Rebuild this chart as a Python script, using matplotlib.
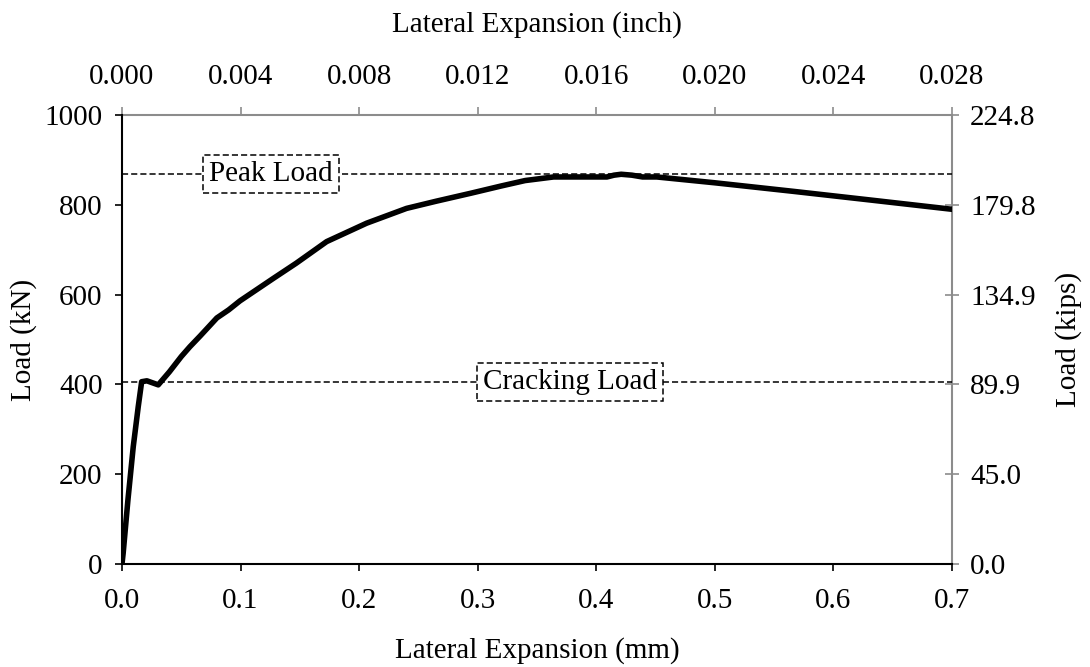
import matplotlib
matplotlib.use("Agg")
import matplotlib.pyplot as plt

plt.rcParams['font.family'] = ['Liberation Serif', 'DejaVu Serif']
plt.rcParams['font.size'] = 21

# load vs lateral expansion
expansion_mm = [0.000, 0.001, 0.005, 0.0095, 0.0137, 0.0166, 0.021, 0.0306, 0.040,
                0.050, 0.0573, 0.066, 0.080, 0.090, 0.0995, 0.1276, 0.147, 0.1726,
                0.2063, 0.240, 0.265, 0.2946, 0.320, 0.340, 0.364, 0.409, 0.415,
                0.421, 0.430, 0.439, 0.451, 0.500, 0.566, 0.630, 0.700]
load_kn = [0, 24, 142, 261, 350, 406, 408, 399, 428,
           462, 484, 508, 548, 566, 586, 636, 670, 718,
           759, 792, 808, 826, 842, 854, 862, 862, 866,
           868, 866, 862, 862, 849, 830, 811, 790]

peak_load = 868
cracking_load = 406

kn_ticks = [0, 200, 400, 600, 800, 1000]
mm_ticks = [0.0, 0.1, 0.2, 0.3, 0.4, 0.5, 0.6, 0.7]
inch_ticks = [0.000, 0.004, 0.008, 0.012, 0.016, 0.020, 0.024, 0.028]

KN_TO_KIPS = 0.22481
MM_TO_INCH = 0.028 / 0.7
GRAY = '#8c8c8c'

fig = plt.figure(figsize=(10.9, 6.67), dpi=100)
ax = fig.add_axes([0.1119, 0.1544, 0.7615, 0.6732])

ax.plot(expansion_mm, load_kn, color='black', lw=4, solid_joinstyle='round', zorder=3)
ax.axhline(peak_load, color='black', lw=1.1, ls=(0, (4, 2)), zorder=2)
ax.axhline(cracking_load, color='black', lw=1.1, ls=(0, (4, 2)), zorder=2)

box = dict(boxstyle='square,pad=0.2', fc='white', ec='black', lw=1.1, ls=(0, (4, 2)))
ax.text(0.1257, peak_load, 'Peak Load', ha='center', va='center', bbox=box, zorder=4)
ax.text(0.378, cracking_load, 'Cracking Load', ha='center', va='center', bbox=box, zorder=4)

ax.set_xlim(0, 0.7)
ax.set_ylim(0, 1000)
ax.set_xticks(mm_ticks)
ax.set_xticklabels(['%.1f' % t for t in mm_ticks])
ax.set_yticks(kn_ticks)
ax.tick_params(direction='out', length=5, width=1.2)
ax.tick_params(axis='x', pad=12)
ax.tick_params(axis='y', pad=9)
ax.spines['left'].set_linewidth(1.5)
ax.spines['bottom'].set_linewidth(1.5)
ax.spines['top'].set_visible(False)
ax.spines['right'].set_visible(False)
ax.set_xlabel('Lateral Expansion (mm)', labelpad=17)
ax.set_ylabel('Load (kN)', labelpad=5)

# imperial units on the secondary axes
top = ax.secondary_xaxis('top', functions=(lambda x: x * MM_TO_INCH, lambda x: x / MM_TO_INCH))
top.set_xticks(inch_ticks)
top.set_xticklabels(['%.3f' % t for t in inch_ticks])
top.spines['top'].set_color(GRAY)
top.spines['top'].set_linewidth(1.5)
top.tick_params(direction='out', length=6, width=1.2, color=GRAY, pad=12)
top.set_xlabel('Lateral Expansion (inch)', labelpad=23)

right = ax.secondary_yaxis('right', functions=(lambda y: y * KN_TO_KIPS, lambda y: y / KN_TO_KIPS))
kip_ticks = [k * KN_TO_KIPS for k in kn_ticks]
right.set_yticks(kip_ticks)
right.set_yticklabels(['%.1f' % t for t in kip_ticks])
right.spines['right'].set_color(GRAY)
right.spines['right'].set_linewidth(1.5)
right.tick_params(direction='inout', length=10, width=1.2, color=GRAY, pad=8)
right.set_ylabel('Load (kips)', labelpad=14)

fig.savefig('out.png', dpi=100)
